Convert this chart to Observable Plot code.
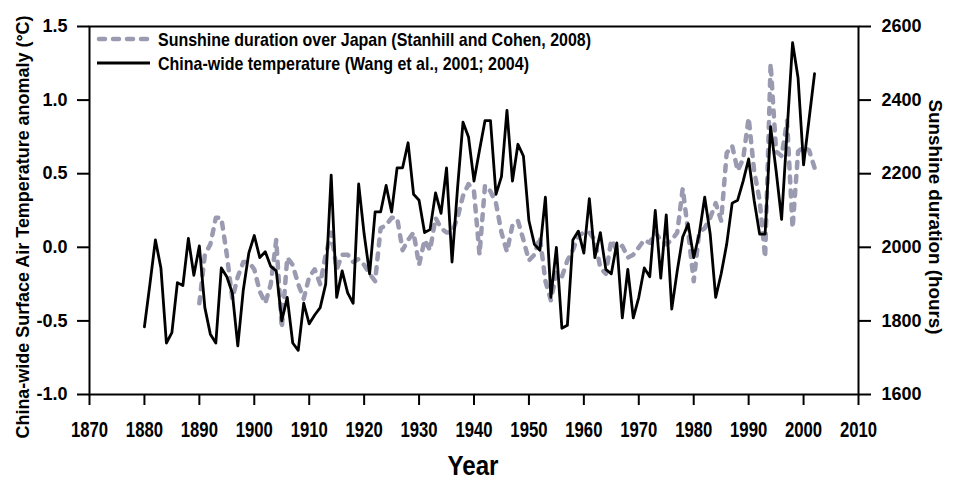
<!DOCTYPE html>
<html>
<head>
<meta charset="utf-8">
<script src="https://cdn.jsdelivr.net/npm/d3@7"></script>
<script src="https://cdn.jsdelivr.net/npm/@observablehq/plot@0.6"></script>
<style>
  html, body { margin: 0; padding: 0; background: #fff; }
  #chart { width: 955px; height: 481px; }
</style>
</head>
<body>
<div id="chart"></div>
<script>
// ---- Data ----
const tempYears = [
  1880,1881,1882,1883,1884,1885,1886,1887,1888,1889,
  1890,1891,1892,1893,1894,1895,1896,1897,1898,1899,
  1900,1901,1902,1903,1904,1905,1906,1907,1908,1909,
  1910,1911,1912,1913,1914,1915,1916,1917,1918,1919,
  1920,1921,1922,1923,1924,1925,1926,1927,1928,1929,
  1930,1931,1932,1933,1934,1935,1936,1937,1938,1939,
  1940,1941,1942,1943,1944,1945,1946,1947,1948,1949,
  1950,1951,1952,1953,1954,1955,1956,1957,1958,1959,
  1960,1961,1962,1963,1964,1965,1966,1967,1968,1969,
  1970,1971,1972,1973,1974,1975,1976,1977,1978,1979,
  1980,1981,1982,1983,1984,1985,1986,1987,1988,1989,
  1990,1991,1992,1993,1994,1995,1996,1997,1998,1999,
  2000,2001,2002
];
// China-wide temperature anomaly (°C)
const tempValues = [
  -0.54,-0.25, 0.05,-0.14,-0.65,-0.58,-0.24,-0.26, 0.06,-0.19,
   0.01,-0.41,-0.59,-0.65,-0.14,-0.20,-0.31,-0.67,-0.29,-0.04,
   0.08,-0.07,-0.03,-0.13,-0.16,-0.50,-0.34,-0.65,-0.70,-0.38,
  -0.52,-0.46,-0.41,-0.25, 0.49,-0.34,-0.16,-0.31,-0.38, 0.43,
   0.09,-0.18, 0.24, 0.24, 0.42, 0.24, 0.54, 0.54, 0.71, 0.36,
   0.32, 0.10, 0.12, 0.37, 0.23, 0.54,-0.10, 0.40, 0.85, 0.75,
   0.45, 0.66, 0.86, 0.86, 0.36, 0.48, 0.93, 0.45, 0.70, 0.62,
   0.18, 0.02,-0.02, 0.34,-0.34, 0.00,-0.55,-0.53, 0.05, 0.11,
  -0.04, 0.33,-0.07, 0.10,-0.15,-0.18, 0.03,-0.48,-0.15,-0.48,
  -0.34,-0.14,-0.20, 0.25,-0.21, 0.22,-0.42,-0.16, 0.07, 0.16,
  -0.07, 0.09, 0.34, 0.09,-0.34,-0.18, 0.02, 0.30, 0.32, 0.45,
   0.60, 0.32, 0.09, 0.09, 0.82, 0.52, 0.19, 0.79, 1.39, 1.15,
   0.56, 0.87, 1.18
];
const sunYears = [
  1890,1891,1892,1893,1894,1895,1896,1897,1898,1899,
  1900,1901,1902,1903,1904,1905,1906,1907,1908,1909,
  1910,1911,1912,1913,1914,1915,1916,1917,1918,1919,
  1920,1921,1922,1923,1924,1925,1926,1927,1928,1929,
  1930,1931,1932,1933,1934,1935,1936,1937,1938,1939,
  1940,1941,1942,1943,1944,1945,1946,1947,1948,1949,
  1950,1951,1952,1953,1954,1955,1956,1957,1958,1959,
  1960,1961,1962,1963,1964,1965,1966,1967,1968,1969,
  1970,1971,1972,1973,1974,1975,1976,1977,1978,1979,
  1980,1981,1982,1983,1984,1985,1986,1987,1988,1989,
  1990,1991,1992,1993,1994,1995,1996,1997,1998,1999,
  2000,2001,2002
];
// Sunshine duration over Japan (hours)
const sunValues = [
  1848,1980,2008,2080,2080,1980,1860,1920,1960,1960,
  1940,1880,1848,1900,2020,1780,1972,1952,1900,1860,
  1920,1940,1900,1980,2040,1940,1980,1980,1960,1968,
  1952,1928,1908,2052,2060,2080,2080,1992,2020,2040,
  1952,2020,1992,2080,2052,2040,2040,2080,2140,2172,
  2152,1980,2168,2152,2120,2040,1988,2060,2072,2020,
  1964,1980,2028,1908,1856,1932,1920,1964,1992,2032,
  2040,2040,2020,1944,1928,2020,1992,2004,1972,1980,
  2000,2020,2012,2040,2020,2008,2020,2040,2160,2040,
  1908,2040,2052,2080,2120,2072,2256,2276,2208,2240,
  2352,2208,2128,1972,2500,2260,2248,2344,2052,2260,
  2272,2264,2216
];

const xTicks = [1870,1880,1890,1900,1910,1920,1930,1940,1950,1960,1970,1980,1990,2000,2010];
const tempTicks = [-1.0,-0.5,0.0,0.5,1.0,1.5];
const hourTicks = [1600,1800,2000,2200,2400,2600];

const legendLabels = [
  "Sunshine duration over Japan (Stanhill and Cohen, 2008)",
  "China-wide temperature (Wang et al., 2001; 2004)"
];
const xTitle = "Year";
const yLeftTitle = "China-wide Surface Air Temperature anomaly (°C)";
const yRightTitle = "Sunshine duration (hours)";

// ---- Build ----
const hoursToTemp = h => (h - 2000) / 400;
const tempToHours = t => Math.round(2000 + 400 * t);

const tempData = tempYears.map((y, i) => ({year: y, value: tempValues[i]}));
const sunData = sunYears.map((y, i) => ({year: y, hours: sunValues[i]}));

const GRAY = "#9a9ab0";
const FONT = "'Liberation Sans', Arial, Helvetica, sans-serif";

const plot = Plot.plot({
  width: 955,
  height: 481,
  marginLeft: 89,
  marginRight: 97,
  marginTop: 26,
  marginBottom: 87,
  style: {fontFamily: FONT, fontWeight: "bold", background: "#fff", color: "#000", overflow: "visible"},
  x: {domain: [1870, 2010]},
  y: {domain: [-1, 1.5]},
  marks: [
    Plot.axisX({ticks: xTicks, tickSize: 11, tickPadding: 16, strokeWidth: 2,
      tickFormat: d => String(d), fontSize: 22, label: null}),
    Plot.axisY({ticks: tempTicks, tickSize: 12, tickPadding: 10, strokeWidth: 2,
      tickFormat: d => d.toFixed(1), fontSize: 18, label: null}),
    Plot.axisY({anchor: "right", ticks: hourTicks.map(hoursToTemp), tickSize: 12, tickPadding: 11, strokeWidth: 2,
      tickFormat: t => String(tempToHours(t)), fontSize: 18, label: null}),
    Plot.line(sunData, {x: "year", y: d => hoursToTemp(d.hours), stroke: GRAY, strokeWidth: 4.5,
      strokeDasharray: "6,8", strokeLinecap: "round", strokeLinejoin: "round"}),
    Plot.line(tempData, {x: "year", y: "value", stroke: "#000", strokeWidth: 2.8, strokeLinejoin: "round"}),
    Plot.frame({stroke: "#000", strokeWidth: 2})
  ]
});

document.getElementById("chart").appendChild(plot);

const svg = d3.select(plot);
// condense the x tick labels like the reference
svg.selectAll('g[aria-label="x-axis tick label"] text').each(function() {
  const t = this.getAttribute("transform") || "";
  this.setAttribute("transform", t + " scale(0.76,1)");
});

// Legend
const lg = svg.append("g").attr("font-family", FONT).attr("font-weight", "bold")
  .attr("text-anchor", "start").attr("fill", "#000");
lg.append("line").attr("x1", 99).attr("x2", 150).attr("y1", 39).attr("y2", 39)
  .attr("stroke", GRAY).attr("stroke-width", 4.5).attr("stroke-dasharray", "6,8")
  .attr("stroke-linecap", "round");
lg.append("text").attr("x", 158).attr("y", 45.5).attr("font-size", 18.5)
  .attr("textLength", 433).attr("lengthAdjust", "spacingAndGlyphs").text(legendLabels[0]);
lg.append("line").attr("x1", 97).attr("x2", 150).attr("y1", 63).attr("y2", 63)
  .attr("stroke", "#000").attr("stroke-width", 3);
lg.append("text").attr("x", 158).attr("y", 69.5).attr("font-size", 18.5)
  .attr("textLength", 371).attr("lengthAdjust", "spacingAndGlyphs").text(legendLabels[1]);

// Axis titles
const tg = svg.append("g").attr("font-family", FONT).attr("font-weight", "bold").attr("fill", "#000")
  .attr("text-anchor", "middle");
tg.append("text").attr("x", 473).attr("y", 475).attr("font-size", 27)
  .attr("textLength", 51).attr("lengthAdjust", "spacingAndGlyphs").text(xTitle);
tg.append("text").attr("transform", "translate(29,227) rotate(-90)")
  .attr("font-size", 18.5).attr("textLength", 423).attr("lengthAdjust", "spacingAndGlyphs").text(yLeftTitle);
tg.append("text").attr("transform", "translate(929,217) rotate(90)")
  .attr("font-size", 19).attr("textLength", 235).attr("lengthAdjust", "spacingAndGlyphs").text(yRightTitle);
</script>
</body>
</html>
